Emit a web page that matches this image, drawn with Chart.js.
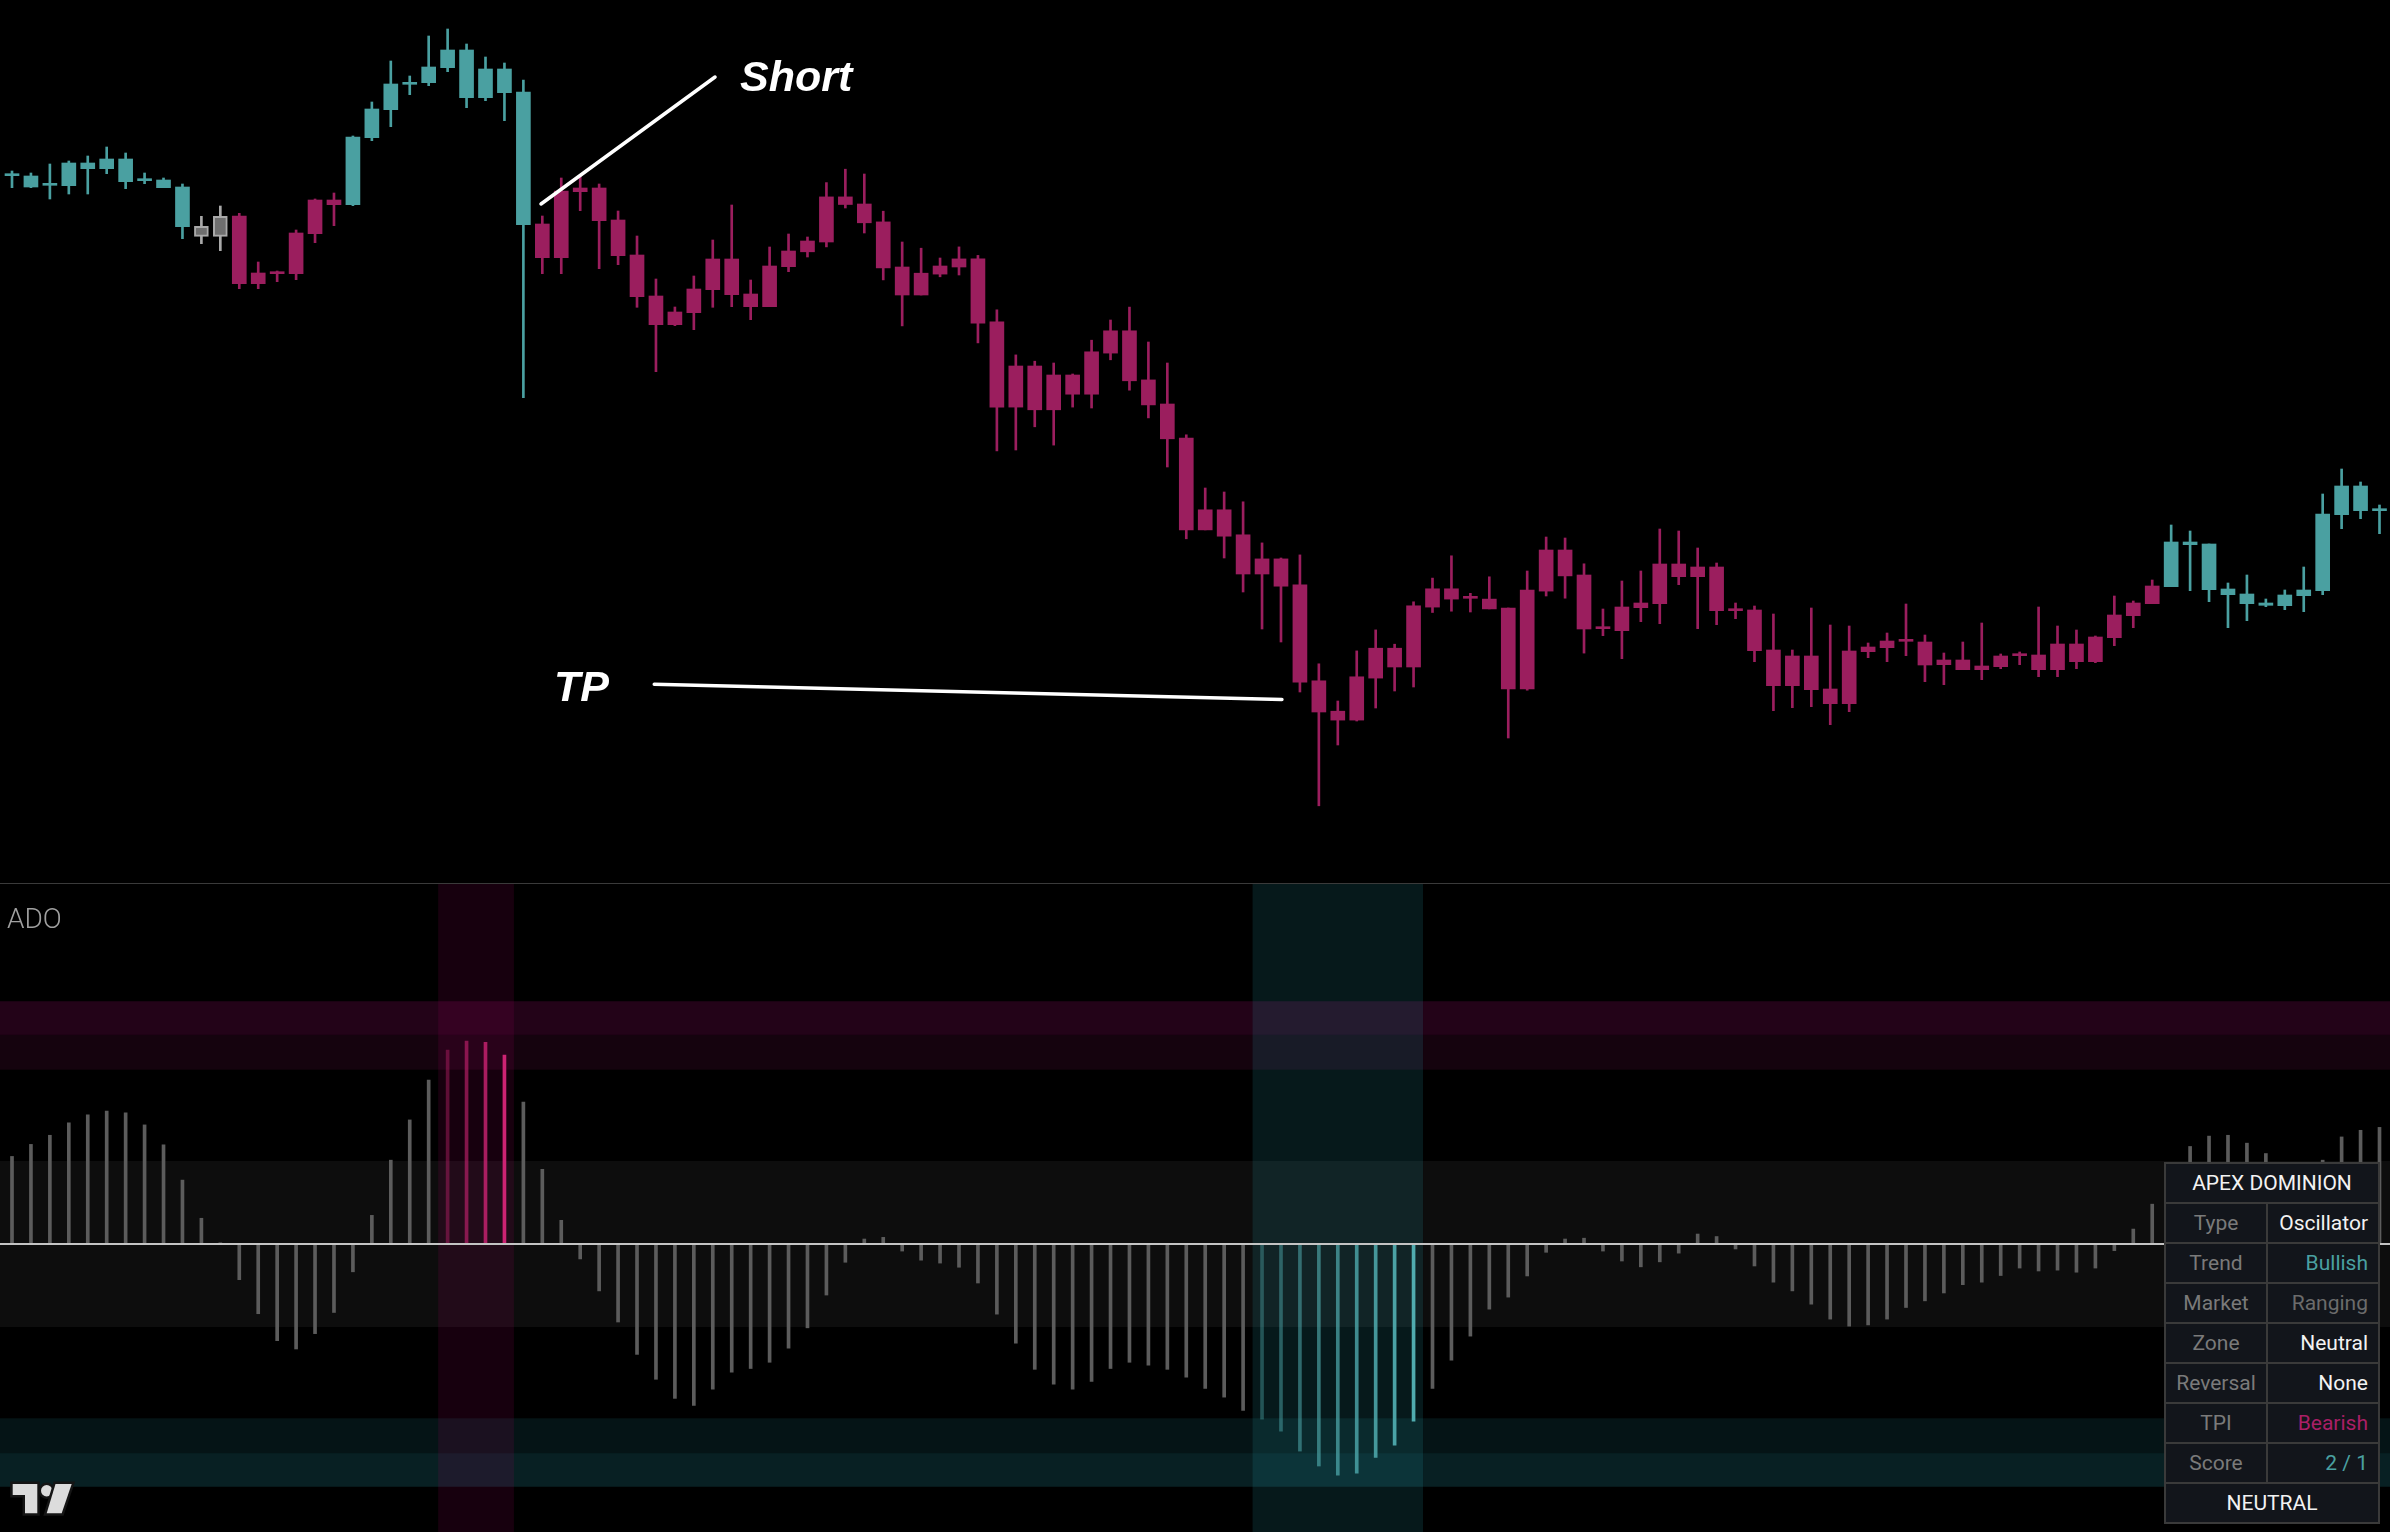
<!DOCTYPE html>
<html>
<head>
<meta charset="utf-8">
<script src="https://cdn.jsdelivr.net/npm/chart.js@4.4.1/dist/chart.umd.min.js"></script>
<style>
html,body{margin:0;padding:0;background:#000;width:2390px;height:1532px;overflow:hidden;}
#wrap{position:relative;width:2390px;height:1532px;background:#000;}
#price{position:absolute;left:0;top:0;}
#osc{position:absolute;left:0;top:884px;}
#divider{position:absolute;left:0;top:883px;width:2390px;height:1px;background:#3a3a3a;}
.anno{position:absolute;color:#fff;font:italic bold 43px "Liberation Sans",Arial,sans-serif;line-height:43px;white-space:nowrap;}
#ado{position:absolute;left:7px;top:905px;font:300 28px Roboto,sans-serif;line-height:28px;color:#a0a0a0;}
#tbl{position:absolute;left:2164px;top:1162px;width:216px;box-sizing:border-box;padding:2px;background:#3a3a3a;
  display:grid;grid-template-columns:100px 110px;grid-auto-rows:38px;gap:2px;font:400 21px Roboto,sans-serif;}
#tbl div{background:#12151b;display:flex;align-items:center;white-space:nowrap;}
#tbl .full{grid-column:1 / span 2;justify-content:center;color:#f2f2f2;}
#tbl .lab{justify-content:center;color:#7a7a7a;}
#tbl .val{justify-content:flex-end;padding-right:10px;color:#f2f2f2;}
#logo{position:absolute;left:0;top:1475px;}
</style>
</head>
<body>
<div id="wrap">
  <canvas id="price" width="2390" height="883" style="width:2390px;height:883px"></canvas>
  <div id="divider"></div>
  <canvas id="osc" width="2390" height="648" style="width:2390px;height:648px"></canvas>
  <div id="ado">ADO</div>
  <div id="tbl"></div>
  <svg id="logo" width="90" height="50" viewBox="0 1475 90 50">
    <g stroke="#151515" stroke-width="5" stroke-linejoin="miter" fill="#dcdcdc" paint-order="stroke">
      <path d="M12.7 1484 H37.3 V1513.3 H25 V1495 H12.7 Z"/>
      <circle cx="46.7" cy="1490.7" r="5.7"/>
      <path d="M55.5 1484 H71.7 L61.7 1513.3 H46.7 Z"/>
    </g>
  </svg>
</div>
<script>
// ---------------- DATA ----------------
// bar numbers 0..125
const OPEN = [72.53,72.40,71.57,71.43,73.70,73.13,74.10,72.03,72.00,71.30,
67.37,66.37,68.40,61.63,62.73,62.63,66.63,70.00,69.53,76.23,
79.03,81.67,81.73,83.23,85.00,80.23,83.10,80.80,67.60,64.23,
70.83,71.20,68.00,64.50,60.40,57.53,58.73,61.03,64.10,60.60,
59.33,63.33,64.82,65.80,70.31,69.60,67.81,63.30,60.50,62.59,
63.30,64.11,57.81,49.29,53.40,49.02,52.50,50.58,54.69,56.92,
52.01,49.60,46.20,37.01,39.02,36.52,32.60,34.11,31.52,21.92,
18.88,17.99,22.19,25.18,23.30,29.29,31.12,30.27,30.09,29.20,
21.12,30.89,35.00,32.50,27.23,26.93,29.23,29.63,33.60,32.33,
33.30,29.03,29.00,25.00,21.43,24.40,21.10,19.63,24.83,25.23,
25.97,25.80,23.53,24.00,23.03,23.33,24.53,24.50,23.03,25.60,
23.83,26.23,28.43,29.63,31.33,35.80,35.60,31.10,30.60,29.70,
29.43,30.43,30.93,38.53,41.40,39.03];
const HIGH = [72.90,72.70,73.60,73.90,74.40,75.30,74.70,72.70,72.20,71.60,
68.37,69.40,68.67,63.80,62.90,67.00,70.10,70.70,76.40,79.80,
83.90,82.40,86.40,87.10,85.60,84.30,83.70,82.00,68.40,72.20,
72.40,71.60,68.90,66.40,62.10,59.30,62.40,66.00,69.50,62.00,
65.30,66.60,66.30,71.74,73.08,72.60,68.88,65.80,65.18,64.20,
65.31,64.46,59.02,54.51,53.88,53.70,52.60,55.98,58.00,59.29,
55.80,53.70,46.52,41.20,40.80,39.82,35.71,34.20,34.51,23.62,
19.90,24.91,27.01,25.58,29.82,32.19,34.42,30.67,32.32,29.20,
32.90,36.30,36.20,33.62,29.10,31.90,32.90,37.10,36.90,35.20,
33.70,29.70,29.40,28.60,25.00,29.20,27.50,27.40,25.70,26.70,
29.60,26.50,24.70,25.80,27.70,24.60,24.80,29.30,27.40,27.00,
26.40,30.40,29.90,32.00,37.50,36.90,35.60,31.70,32.50,30.10,
31.00,33.30,40.60,43.10,41.80,39.50];
const LOW = [71.23,71.23,70.10,70.60,70.60,72.63,71.13,71.63,71.23,66.13,
65.63,64.93,61.13,61.13,61.83,62.03,65.73,67.43,69.43,75.93,
77.33,80.53,81.43,82.83,79.23,79.93,77.93,50.23,62.63,62.63,
68.93,63.13,63.53,59.27,52.83,57.43,57.03,59.27,59.33,58.03,
59.33,62.83,64.30,65.31,69.20,66.70,62.01,57.41,60.50,62.32,
62.50,55.71,44.91,45.00,47.32,45.49,49.29,49.20,54.02,50.98,
48.21,43.30,36.12,37.01,34.20,30.80,27.10,25.80,20.80,9.42,
15.50,17.90,19.20,20.90,21.30,28.75,28.88,28.80,29.11,16.20,
20.98,30.40,30.18,24.69,26.43,24.13,27.83,27.63,31.53,27.13,
27.53,28.13,23.83,18.93,19.23,19.33,17.53,18.83,24.23,23.83,
24.43,21.83,21.53,23.03,22.03,23.13,23.53,22.33,22.33,23.13,
23.73,25.43,27.23,29.63,31.33,30.93,29.83,27.23,27.93,29.33,
29.03,28.83,30.53,37.13,38.13,36.63];
const CLOSE = [72.53,71.30,71.57,73.70,73.13,74.10,71.83,72.03,71.23,67.33,
66.37,68.37,61.63,62.70,62.73,66.70,70.00,69.53,76.30,79.10,
81.60,81.67,83.30,85.00,80.23,83.10,80.73,67.53,64.23,70.90,
71.20,67.93,64.43,60.33,57.53,58.80,61.10,64.10,60.53,59.33,
63.40,64.90,65.90,70.31,69.55,67.72,63.21,60.50,62.68,63.40,
64.11,57.68,49.29,53.40,49.02,52.50,50.58,54.82,56.92,51.92,
49.51,46.12,37.01,39.02,36.38,32.60,34.11,31.38,21.79,18.80,
17.99,22.32,25.18,23.30,29.42,31.12,30.09,30.27,29.11,21.12,
30.98,35.00,32.41,27.10,27.23,29.30,29.70,33.60,32.33,33.30,
28.93,29.03,24.93,21.43,24.40,21.03,19.63,24.90,25.30,25.90,
25.97,23.50,24.00,23.03,23.40,24.40,24.53,23.03,25.60,23.83,
26.30,28.50,29.70,31.40,35.80,35.53,31.03,30.53,29.63,29.47,
30.50,31.00,38.60,41.40,38.93,39.03];
// trend state of each bar: 1 bullish, 0 neutral, -1 bearish
const TREND = [1,1,1,1,1,1,1,1,1,1,
0,0,-1,-1,-1,-1,-1,-1,1,1,
1,1,1,1,1,1,1,1,-1,-1,
-1,-1,-1,-1,-1,-1,-1,-1,-1,-1,
-1,-1,-1,-1,-1,-1,-1,-1,-1,-1,
-1,-1,-1,-1,-1,-1,-1,-1,-1,-1,
-1,-1,-1,-1,-1,-1,-1,-1,-1,-1,
-1,-1,-1,-1,-1,-1,-1,-1,-1,-1,
-1,-1,-1,-1,-1,-1,-1,-1,-1,-1,
-1,-1,-1,-1,-1,-1,-1,-1,-1,-1,
-1,-1,-1,-1,-1,-1,-1,-1,-1,-1,
-1,-1,-1,-1,1,1,1,1,1,1,
1,1,1,1,1,1];
// ADO oscillator
const ADO = [21.1,24.0,26.2,29.2,31.1,32.0,31.6,28.7,23.9,15.4,
6.2,0.3,-8.6,-16.8,-23.3,-25.3,-21.6,-16.5,-6.7,6.9,
20.2,29.9,39.5,46.7,48.9,48.6,45.5,34.2,18.0,5.7,
-3.6,-11.3,-18.8,-26.6,-32.6,-37.2,-38.9,-35.0,-30.9,-30.0,
-28.5,-25.1,-20.2,-12.3,-4.4,1.2,1.6,-1.7,-3.9,-4.6,
-5.6,-9.4,-16.9,-23.9,-30.2,-33.8,-35.0,-33.1,-30.0,-28.5,
-29.2,-30.2,-32.1,-34.8,-36.9,-40.1,-42.2,-45.1,-49.9,-53.5,
-55.7,-55.2,-51.4,-48.5,-42.7,-34.8,-28.0,-22.2,-15.7,-12.8,
-7.7,-2.0,1.2,1.4,-1.7,-4.1,-5.5,-4.3,-2.2,2.4,
1.8,-1.2,-5.3,-9.2,-11.3,-14.5,-18.1,-19.8,-19.5,-18.1,
-15.3,-13.7,-11.8,-9.8,-9.2,-7.6,-5.8,-6.5,-6.3,-6.8,
-5.8,-1.6,3.6,9.6,16.9,23.5,26.0,26.2,24.3,21.8,
18.3,18.8,20.2,25.8,27.4,28.1];
// oscillator zone levels
const NEUTRAL_LEVEL = 20;
const EXTREME_LEVELS = [42, 50.4, 58.5];
// signal windows (bar numbers)
const SIGNALS = [{from:23, to:26, side:'bear'}, {from:66, to:74, side:'bull'}];
// drawn annotations (bar number, price)
const ANNO_LINES = [{x1:27.93, y1:69.6, x2:37.12, y2:82.3}, {x1:33.91, y1:21.57, x2:67.05, y2:20.05}];
const ANNO_TEXT = [{text:'Short', x:38.44, y:80.83}, {text:'TP', x:28.62, y:19.9}];
// dashboard table
const TABLE_TITLE = 'APEX DOMINION';
const TABLE_ROWS = [['Type','Oscillator','#f2f2f2'],['Trend','Bullish','#4aa0a1'],['Market','Ranging','#6b6b6b'],
  ['Zone','Neutral','#f2f2f2'],['Reversal','None','#f2f2f2'],['TPI','Bearish','#aa1f66'],['Score','2 / 1','#4aa0a1']];
const TABLE_FOOT = 'NEUTRAL';

// ---------------- STYLE ----------------
const TEAL = '#4aa0a1', MAG = '#9b1e5e', GRAYF = '#6e6e6e', GRAYB = '#a9a9a9';
const X_MIN = -12/18.94, X_MAX = X_MIN + 2390/18.94;
const N = CLOSE.length;
const IDX = CLOSE.map((_, i) => i);
const trendCol = t => t > 0 ? TEAL : (t < 0 ? MAG : GRAYF);

const bodyData = IDX.map(i => {
  let a = Math.min(OPEN[i], CLOSE[i]), b = Math.max(OPEN[i], CLOSE[i]);
  if (b - a < 0.2) { const m = (a + b) / 2; a = m - 0.1; b = m + 0.1; }
  return {x: i, y: [a, b]};
});
const wickData = IDX.map(i => ({x: i, y: [LOW[i], HIGH[i]]}));

const annoPlugin = {
  id: 'annoLines',
  afterDatasetsDraw(chart) {
    const {ctx, scales: {x, y}} = chart;
    ctx.save();
    ctx.strokeStyle = '#ffffff'; ctx.lineWidth = 3.5; ctx.lineCap = 'round';
    for (const l of ANNO_LINES) {
      ctx.beginPath();
      ctx.moveTo(x.getPixelForValue(l.x1), y.getPixelForValue(l.y1));
      ctx.lineTo(x.getPixelForValue(l.x2), y.getPixelForValue(l.y2));
      ctx.stroke();
    }
    ctx.restore();
  }
};

const common = {
  responsive: false, animation: false, devicePixelRatio: 1, events: [],
  layout: {padding: 0},
  plugins: {legend: {display: false}, tooltip: {enabled: false}}
};

const priceChart = new Chart(document.getElementById('price'), {
  type: 'bar',
  data: {datasets: [
    {data: bodyData, order: 0, grouped: false, barThickness: 14, borderSkipped: false,
     backgroundColor: IDX.map(i => trendCol(TREND[i])),
     borderColor: IDX.map(i => TREND[i] === 0 ? GRAYB : 'rgba(0,0,0,0)'),
     borderWidth: IDX.map(i => TREND[i] === 0 ? 2 : 0)},
    {data: wickData, order: 1, grouped: false, barThickness: 2, borderWidth: 0,
     backgroundColor: IDX.map(i => TREND[i] === 0 ? GRAYB : trendCol(TREND[i]))}
  ]},
  options: Object.assign({}, common, {
    scales: {
      x: {type: 'linear', min: X_MIN, max: X_MAX, display: false, offset: false},
      y: {min: 1.7, max: 90, display: false}
    }
  }),
  plugins: [annoPlugin]
});

// text annotations as DOM text, placed through the chart scales
const BASELINE = 36.4;
for (const t of ANNO_TEXT) {
  const el = document.createElement('div');
  el.className = 'anno';
  el.textContent = t.text;
  el.style.left = priceChart.scales.x.getPixelForValue(t.x) + 'px';
  el.style.top = (priceChart.scales.y.getPixelForValue(t.y) - BASELINE) + 'px';
  document.getElementById('wrap').appendChild(el);
}

// oscillator
const oscColors = IDX.map(i => {
  for (const s of SIGNALS) {
    if (i >= s.from && i <= s.to) {
      const a = (0.4 + 0.6 * (i - s.from) / (s.to - s.from)).toFixed(2);
      return s.side === 'bear' ? `rgba(205,35,115,${a})` : `rgba(80,172,175,${a})`;
    }
  }
  return '#5c5c5c';
});

const zonePlugin = {
  id: 'zones',
  beforeDatasetsDraw(chart) {
    const {ctx, chartArea: ca, scales: {x, y}} = chart;
    const band = (a, b, c) => { const y1 = y.getPixelForValue(b), y2 = y.getPixelForValue(a); ctx.fillStyle = c; ctx.fillRect(ca.left, y1, ca.right - ca.left, y2 - y1); };
    ctx.save();
    band(-NEUTRAL_LEVEL, NEUTRAL_LEVEL, 'rgba(255,255,255,0.05)');
    band(EXTREME_LEVELS[1], EXTREME_LEVELS[2], 'rgba(160,15,110,0.22)');
    band(EXTREME_LEVELS[0], EXTREME_LEVELS[1], 'rgba(160,20,110,0.13)');
    band(-EXTREME_LEVELS[1], -EXTREME_LEVELS[0], 'rgba(40,160,175,0.125)');
    band(-EXTREME_LEVELS[2], -EXTREME_LEVELS[1], 'rgba(40,160,175,0.2)');
    for (const s of SIGNALS) {
      const x1 = x.getPixelForValue(s.from - 0.5), x2 = x.getPixelForValue(s.to + 0.5);
      ctx.fillStyle = s.side === 'bear' ? 'rgba(160,0,100,0.14)' : 'rgba(40,180,190,0.14)';
      ctx.fillRect(x1, ca.top, x2 - x1, ca.bottom - ca.top);
    }
    ctx.restore();
  },
  afterDatasetsDraw(chart) {
    const {ctx, chartArea: ca, scales: {y}} = chart;
    const y0 = y.getPixelForValue(0);
    ctx.save();
    ctx.strokeStyle = '#c4c4c4'; ctx.lineWidth = 2;
    ctx.beginPath(); ctx.moveTo(ca.left, y0); ctx.lineTo(ca.right, y0); ctx.stroke();
    ctx.restore();
  }
};

new Chart(document.getElementById('osc'), {
  type: 'bar',
  data: {datasets: [{data: IDX.map(i => ({x: i, y: ADO[i]})), barThickness: 3, borderWidth: 0, backgroundColor: oscColors}]},
  options: Object.assign({}, common, {
    scales: {
      x: {type: 'linear', min: X_MIN, max: X_MAX, display: false, offset: false},
      y: {min: -69.4, max: 86.75, display: false}
    }
  }),
  plugins: [zonePlugin]
});

// table
const tbl = document.getElementById('tbl');
const cell = (cls, txt, color) => { const d = document.createElement('div'); d.className = cls; d.textContent = txt; if (color) d.style.color = color; tbl.appendChild(d); };
cell('full', TABLE_TITLE);
for (const r of TABLE_ROWS) { cell('lab', r[0]); cell('val', r[1], r[2]); }
cell('full', TABLE_FOOT);
</script>
</body>
</html>
